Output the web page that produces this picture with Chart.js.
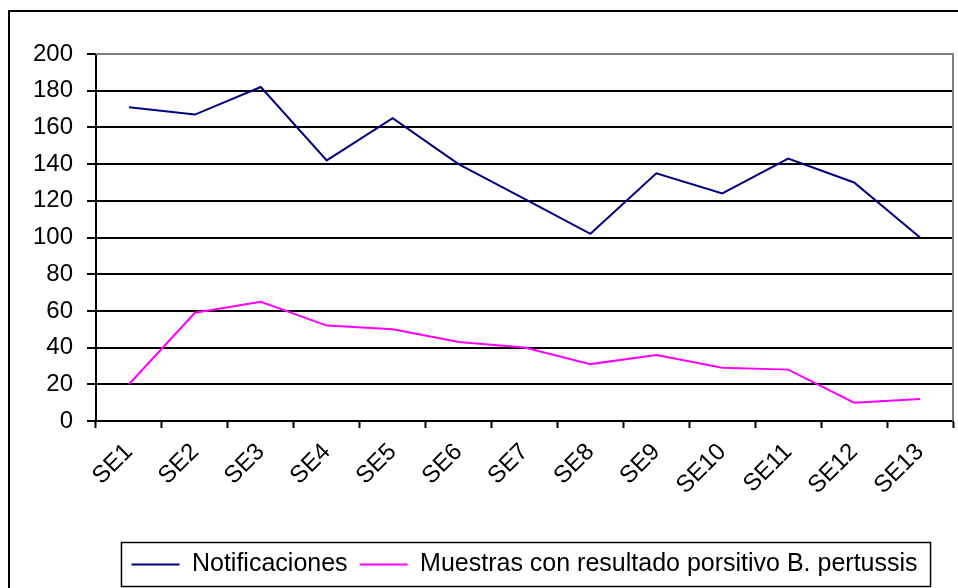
<!DOCTYPE html>
<html>
<head>
<meta charset="utf-8">
<script src="https://cdn.jsdelivr.net/npm/chart.js@4"></script>
<style>
  html, body { margin: 0; padding: 0; background: #fff; }
  #wrap { width: 958px; height: 588px; }
</style>
</head>
<body>
<div id="wrap"><canvas id="pertussisChart" width="958" height="588"></canvas></div>
<script>
const semanas = ['SE1', 'SE2', 'SE3', 'SE4', 'SE5', 'SE6', 'SE7', 'SE8', 'SE9', 'SE10', 'SE11', 'SE12', 'SE13'];
const notificaciones = [171, 167, 182, 142, 165, 140, 121, 102, 135, 124, 143, 130, 100];
const muestrasPositivas = [20, 59, 65, 52, 50, 43, 40, 31, 36, 29, 28, 10, 12];
const yMin = 0;
const yMax = 200;
const yStep = 20;

const fontFamily = '"Liberation Sans", Arial, sans-serif';

// outer frame, grey plot border and the box around the legend
const framePlugin = {
    id: 'frame',
    afterDraw(chart) {
        const ctx = chart.ctx;
        const area = chart.chartArea;
        ctx.save();
        ctx.strokeStyle = '#000';
        ctx.lineWidth = 2;
        ctx.strokeRect(9, 11, 2000, 2000);

        ctx.strokeStyle = '#808080';
        ctx.lineWidth = 2;
        ctx.beginPath();
        ctx.moveTo(area.left, area.top);
        ctx.lineTo(area.right, area.top);
        ctx.lineTo(area.right, area.bottom);
        ctx.stroke();

        const boxes = chart.legend.legendHitBoxes;
        if (boxes && boxes.length) {
            const first = boxes[0];
            const last = boxes[boxes.length - 1];
            const left = first.left - 10;
            const right = last.left + last.width + 13;
            const cy = first.top + first.height / 2;
            ctx.strokeStyle = '#000';
            ctx.lineWidth = 1.5;
            ctx.strokeRect(left, cy - 22, right - left, 44);
        }
        ctx.restore();
    }
};

const ctx = document.getElementById('pertussisChart').getContext('2d');
new Chart(ctx, {
    type: 'line',
    data: {
        labels: semanas,
        datasets: [{
            label: 'Notificaciones',
            data: notificaciones,
            borderColor: '#000080',
            backgroundColor: '#000080',
            borderWidth: 2,
            pointRadius: 0,
            tension: 0,
            fill: false
        },
        {
            label: 'Muestras con resultado porsitivo B. pertussis',
            data: muestrasPositivas,
            borderColor: '#FF00FF',
            backgroundColor: '#FF00FF',
            borderWidth: 2,
            pointRadius: 0,
            tension: 0,
            fill: false
        }]
    },
    options: {
        responsive: false,
        animation: false,
        layout: {
            padding: { left: 33, top: 54, right: 5, bottom: 1 }
        },
        scales: {
            x: {
                type: 'category',
                offset: true,
                grid: {
                    display: true,
                    offset: true,
                    drawOnChartArea: false,
                    drawTicks: true,
                    tickLength: 7,
                    tickColor: '#000',
                    tickWidth: 2
                },
                border: { display: true, color: '#000', width: 2 },
                ticks: {
                    color: '#000',
                    font: { family: fontFamily, size: 24 },
                    minRotation: 45,
                    maxRotation: 45,
                    padding: 10,
                    autoSkip: false
                },
                afterFit: (scale) => { scale.height = 119; }
            },
            y: {
                min: yMin,
                max: yMax,
                grid: {
                    color: (c) => (c.tick && c.tick.value === yMax) ? '#808080' : '#000',
                    lineWidth: 2,
                    drawTicks: true,
                    tickLength: 9,
                    tickColor: '#000',
                    tickWidth: 2
                },
                border: { display: true, color: '#000', width: 2 },
                ticks: {
                    stepSize: yStep,
                    color: '#000',
                    padding: 14,
                    font: { family: fontFamily, size: 24 }
                },
                afterFit: (scale) => { scale.width = 63; }
            }
        },
        plugins: {
            legend: {
                position: 'bottom',
                fullSize: false,
                labels: {
                    usePointStyle: true,
                    pointStyle: 'line',
                    pointStyleWidth: 48,
                    boxHeight: 2,
                    padding: 12,
                    color: '#000',
                    font: { family: fontFamily, size: 25 }
                }
            },
            tooltip: { enabled: false }
        }
    },
    plugins: [framePlugin]
});
</script>
</body>
</html>
